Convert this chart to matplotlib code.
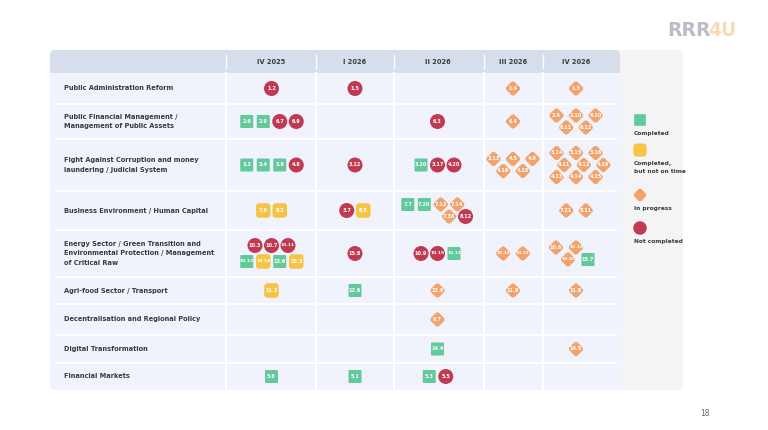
import matplotlib
matplotlib.use("Agg")
import matplotlib.pyplot as plt
from matplotlib.patches import Rectangle, FancyBboxPatch, Circle
from matplotlib.transforms import Affine2D

plt.rcParams["font.family"] = ["DejaVu Sans"]

# ---- data ----
areas = [
    "Public Administration Reform",
    "Public Financial Management /\nManagement of Public Assets",
    "Fight Against Corruption and money\nlaundering / Judicial System",
    "Business Environment / Human Capital",
    "Energy Sector / Green Transition and\nEnvironmental Protection / Management\nof Critical Raw",
    "Agri-food Sector / Transport",
    "Decentralisation and Regional Policy",
    "Digital Transformation",
    "Financial Markets",
]
quarters = ["IV 2025", "I 2026", "II 2026", "III 2026", "IV 2026"]

# status codes: C completed, L completed late, P in progress, N not completed
legend_codes = ["C", "L", "P", "N"]
legend_labels = ["Completed", "Completed,\nbut not on time", "In progress", "Not completed"]

# measures per (area, quarter); "|" starts a new line of markers
measures = {
    (0, 0): "1.2N",
    (0, 1): "1.5N",
    (0, 3): "1.4P",
    (0, 4): "1.3P",
    (1, 0): "2.6C 2.9C 6.7N 6.9N",
    (1, 2): "6.3N",
    (1, 3): "6.4P",
    (1, 4): "2.4P 2.10P 6.10P|6.11P 6.12P",
    (2, 0): "3.3C 3.4C 3.9C 4.8N",
    (2, 1): "3.12N",
    (2, 2): "3.10C 3.17N 4.20N",
    (2, 3): "3.13P 4.5P 4.9P|4.16P 4.18P",
    (2, 4): "3.14P 3.15P 3.16P|4.11P 4.12P 4.19P|4.13P 4.14P 4.15P",
    (3, 0): "7.8L 8.2L",
    (3, 1): "3.7N 8.5L",
    (3, 2): "7.7C 7.20C 7.12P 7.14P|7.38P 8.12N",
    (3, 4): "7.21P 8.11P",
    (4, 0): "10.3N 10.7N 10.11N|10.13C 10.14L 13.6C 15.3L",
    (4, 1): "15.8N",
    (4, 2): "10.9N 10.19N 15.11C",
    (4, 3): "10.16P 10.21P",
    (4, 4): "10.6P 10.18P|10.20P 15.7C",
    (5, 0): "11.3L",
    (5, 1): "12.6C",
    (5, 2): "12.9P",
    (5, 3): "11.9P",
    (5, 4): "11.8P",
    (6, 2): "9.7P",
    (7, 2): "14.4C",
    (7, 4): "14.5P",
    (8, 0): "5.6C",
    (8, 1): "5.1C",
    (8, 2): "5.3C 5.5N",
}

# ---- layout (pixels) ----
W, H = 768, 430
row_edges = [73, 104, 139, 191, 230, 277, 304, 335, 363, 390]
col_seps = [226, 316, 394, 484, 543]
col_centers = [271.5, 355, 437.5, 513, 576]
line_shift = {(2, 4): [0, 0.4, 0], (3, 2): [-0.3, 1.2], (4, 4): [-0.5, 0.1]}

colors = {"C": "#63c99b", "L": "#f6c344", "P": "#f2a36c", "N": "#c03a52"}
txt_dark = "#3b3b3b"

fig = plt.figure(figsize=(W / 100, H / 100), dpi=100)
ax = fig.add_axes([0, 0, 1, 1])
ax.set_xlim(0, W)
ax.set_ylim(H, 0)
ax.axis("off")

# panels
ax.add_patch(FancyBboxPatch((50, 50), 633, 340, boxstyle="round,pad=0,rounding_size=5",
                            fc="#f4f4f6", ec="none"))
ax.add_patch(FancyBboxPatch((50, 50), 570, 340, boxstyle="round,pad=0,rounding_size=5",
                            fc="#f0f3fc", ec="none"))
ax.add_patch(FancyBboxPatch((50, 50), 570, 23, boxstyle="round,pad=0,rounding_size=5",
                            fc="#d6deec", ec="none"))
ax.add_patch(Rectangle((50, 65), 570, 8, fc="#d6deec", ec="none"))

for x in col_seps:
    ax.plot([x, x], [55, 68], color="white", lw=1.0)
    ax.plot([x, x], [73, 390], color="white", lw=1.5)
for y in row_edges[1:-1]:
    ax.plot([56, 616], [y, y], color="white", lw=1.5)

for q, x in zip(quarters, col_centers):
    ax.text(x, 61.5, q, ha="center", va="center", fontsize=4.8, fontweight="bold", color=txt_dark)

for i, name in enumerate(areas):
    yc = (row_edges[i] + row_edges[i + 1]) / 2
    ax.text(64, yc, name, ha="left", va="center", fontsize=4.8, fontweight="bold",
            color=txt_dark, linespacing=1.7)


def draw_marker(x, y, code, label, scale=1.0):
    c = colors[code]
    if code == "C":
        s = 13 * scale
        ax.add_patch(FancyBboxPatch((x - s / 2, y - s / 2), s, s,
                                    boxstyle="round,pad=0,rounding_size=1", fc=c, ec="none"))
    elif code == "L":
        s = 14.5 * scale
        ax.add_patch(FancyBboxPatch((x - s / 2, y - s / 2), s, s,
                                    boxstyle="round,pad=0,rounding_size=3.5", fc=c, ec="none"))
    elif code == "P":
        s = 11.5 * scale
        tr = Affine2D().rotate_deg(45).translate(x, y) + ax.transData
        ax.add_patch(FancyBboxPatch((-s / 2, -s / 2), s, s,
                                    boxstyle="round,pad=0,rounding_size=2.5",
                                    fc=c, ec="none", transform=tr))
    else:
        ax.add_patch(Circle((x, y), 7.5 * scale, fc=c, ec="none"))
    if label:
        fs = 3.6 if len(label) <= 4 else 3.2
        ax.text(x, y, label, ha="center", va="center", fontsize=fs,
                fontweight="bold", color="white")


for (r, c), spec in measures.items():
    lines = [[(tok[:-1], tok[-1]) for tok in ln.split()] for ln in spec.split("|")]
    codes = [code for ln in lines for _, code in ln]
    all_p = all(code == "P" for code in codes)
    dx = 19.5 if all_p else (20 if (r, c) == (4, 4) else 16.5)
    dy = 12 if "P" in codes else 16
    shifts = line_shift.get((r, c), [0] * len(lines))
    yc = (row_edges[r] + row_edges[r + 1]) / 2
    y0 = yc - dy * (len(lines) - 1) / 2
    for li, ln in enumerate(lines):
        xc = col_centers[c] + shifts[li] * dx
        x0 = xc - dx * (len(ln) - 1) / 2
        for k, (lab, code) in enumerate(ln):
            draw_marker(x0 + k * dx, y0 + li * dy, code, lab)

# legend
leg_y = [120, 150, 195, 228]
for code, lab, y in zip(legend_codes, legend_labels, leg_y):
    draw_marker(640, y, code, "", scale=0.9)
    ax.text(634, y + 11, lab, ha="left", va="top", fontsize=4.2, fontweight="bold",
            color=txt_dark, linespacing=1.8)

# logo and page number
ax.text(667, 31, "RRR", ha="left", va="center", fontsize=13.5, fontweight="bold", color="#b9bcc7")
ax.text(708, 31, "4U", ha="left", va="center", fontsize=13.5, fontweight="bold", color="#f6dcb6")
ax.text(705, 413, "18", ha="center", va="center", fontsize=5.5, color="#666666")

fig.savefig("out.png", dpi=100, facecolor="white")
